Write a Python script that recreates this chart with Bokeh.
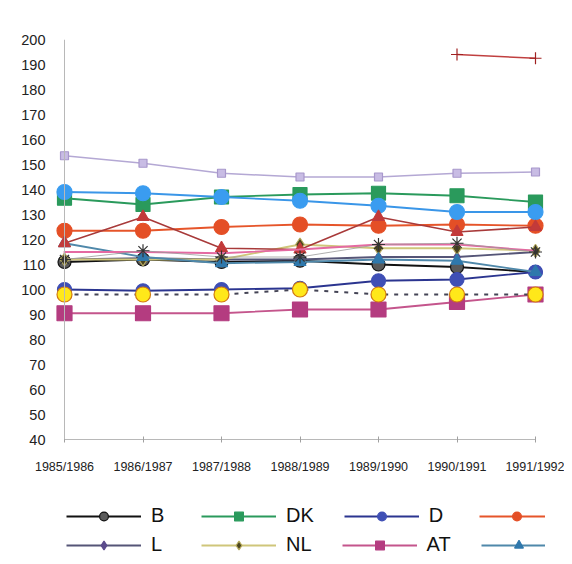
import math
from bokeh.plotting import figure
from bokeh.layouts import column
from bokeh.models import Range1d, Span, Legend, LegendItem, FixedTicker
from bokeh.embed import file_html
from bokeh.resources import INLINE

nan = float("nan")

years = ["1985/1986", "1986/1987", "1987/1988", "1988/1989", "1989/1990", "1990/1991", "1991/1992"]
y_ticks = [40, 50, 60, 70, 80, 90, 100, 110, 120, 130, 140, 150, 160, 170, 180, 190, 200]

B = [111, 112, 111, 111.5, 110, 109, 107]
DK = [136.5, 134, 137, 138, 138.5, 137.5, 135]
D = [100, 99.5, 100, 100.5, 103.5, 104, 107]
GR = [123.5, 123.5, 125, 126, 125.5, 126, 125.5]
L = [112, 112.5, 112, 112, 113, 113, 115]
NL = [112, 112, 112, 118, 116.5, 116.5, 115.5]
AT = [90.5, 90.5, 90.5, 92, 92, 95, 98]
P = [118.5, 113, 110.5, 111, 112, 111.5, 107]
lavender = [153.5, 150.5, 146.5, 145, 145, 146.5, 147]
light_blue = [139, 138.5, 137, 135.5, 133.5, 131, 131]
brown = [118.5, 129, 116.5, 116, 129, 123, 125]
pink = [115, 115, 114.5, 116, 118, 118, 115.5]
star = [112, 115.5, 113, 113, 118, 118.5, 115]
yellow = [98, 98, 98, 100, 98, 98, 98]
cross = [nan, nan, nan, nan, nan, 194, 192.5]

legend_row1 = ["B", "DK", "D", "GR"]
legend_row2 = ["L", "NL", "AT", "P"]

x = list(range(len(years)))
FONT = "Liberation Sans"

# ---------------- main chart ----------------
u = 78.5
pad = 10 / u
p = figure(width=564, height=480, output_backend="svg", toolbar_location=None,
           x_range=Range1d(-pad, len(years) - 1 + pad), y_range=Range1d(40, 200),
           min_border_left=54, min_border_right=19, min_border_top=39, min_border_bottom=41)
p.outline_line_color = None
p.xgrid.grid_line_color = None
p.ygrid.grid_line_color = None
p.background_fill_color = "white"
p.border_fill_color = "white"

xa = p.xaxis[0]
xa.ticker = FixedTicker(ticks=x)
xa.major_label_overrides = {i: lab for i, lab in enumerate(years)}
xa.bounds = (0, len(years) - 1)
xa.axis_line_color = "#b8b8b8"
xa.major_tick_line_color = "#a0a0a0"
xa.major_tick_in = 3
xa.major_tick_out = 3
xa.minor_tick_line_color = None
xa.major_label_standoff = 17
xa.major_label_text_font = FONT
xa.major_label_text_font_size = "12.5px"
xa.major_label_text_color = "#222222"

ya = p.yaxis[0]
ya.ticker = FixedTicker(ticks=y_ticks)
ya.axis_line_color = None
ya.major_tick_line_color = None
ya.minor_tick_line_color = None
ya.major_tick_in = 0
ya.major_tick_out = 0
ya.major_label_standoff = 9
ya.major_label_text_font = FONT
ya.major_label_text_font_size = "14.5px"
ya.major_label_text_color = "#222222"

p.add_layout(Span(location=0, dimension="height", line_color="#b8b8b8", line_width=1))

STYLES = {
    "B": dict(color="#111111", marker="circle", mcolor="#5a5a5a", mline="#111111", size=13),
    "DK": dict(color="#2a9a5c", marker="square", mcolor="#2a9a5c", mline="#2a9a5c", size=14),
    "D": dict(color="#2b3590", marker="circle", mcolor="#3f4fb5", mline="#3f4fb5", size=14),
    "GR": dict(color="#e6552a", marker="circle", mcolor="#e44f26", mline="#e44f26", size=15),
    "L": dict(color="#555577", marker="diamond", mcolor="#5b4b8c", mline="#5b4b8c", size=10),
    "NL": dict(color="#cfc67a", marker="diamond", mcolor="#4a4420", mline="#b8ad60", size=13),
    "AT": dict(color="#c4558c", marker="square", mcolor="#b43c80", mline="#b43c80", size=15),
    "P": dict(color="#4f88aa", marker="triangle", mcolor="#2f78ac", mline="#2f78ac", size=12),
}

def series(fig, xs, vals, color, marker, mcolor, mline, size, lw=1.8, dash="solid"):
    lr = fig.line(xs, vals, line_color=color, line_width=lw, line_dash=dash)
    sr = fig.scatter(xs, vals, marker=marker, size=size, fill_color=mcolor, line_color=mline, line_width=1.2)
    return lr, sr

main_data = {"B": B, "DK": DK, "D": D, "GR": GR, "L": L, "NL": NL, "AT": AT, "P": P}
for name, vals in main_data.items():
    series(p, x, vals, **STYLES[name])
series(p, x, lavender, "#b4a8d4", "square", "#c8bce4", "#a898cc", 8, lw=1.5)
series(p, x, light_blue, "#3a96e8", "circle", "#3a9cf0", "#3a9cf0", 15)
series(p, x, brown, "#a83a3a", "triangle", "#c23a3a", "#c23a3a", 12, lw=1.5)
series(p, x, pink, "#e46aa2", "circle", "#e46aa2", "#e46aa2", 1, lw=1.8)
series(p, x, star, "#9a9a9a", "asterisk", "#333333", "#333333", 13, lw=0.8)
series(p, x, yellow, "#444455", "circle", "#ffe81a", "#d27a10", 15, lw=2, dash="4 6")
series(p, x, cross, "#c04040", "cross", "#a02020", "#a02020", 12, lw=1.5)

# ---------------- legend strip ----------------
# legend proxies: same series, but this strip's ranges keep them out of view
lg = figure(width=564, height=76, output_backend="svg", toolbar_location=None,
            x_range=Range1d(0, 1), y_range=Range1d(0, 1),
            x_axis_type=None, y_axis_type=None,
            min_border_left=0, min_border_right=0, min_border_top=0, min_border_bottom=0)
lg.outline_line_color = None
lg.xgrid.grid_line_color = None
lg.ygrid.grid_line_color = None

def legend_row(names, loc):
    items = []
    for name in names:
        rs = series(lg, x, main_data[name], **STYLES[name])
        items.append(LegendItem(label=name, renderers=list(rs)))
    leg = Legend(items=items, location=loc, orientation="horizontal",
                 border_line_color=None, background_fill_alpha=0, padding=0, margin=0,
                 spacing=30, glyph_width=75, glyph_height=22, label_height=22,
                 label_standoff=10, label_text_font=FONT, label_text_font_size="20px",
                 label_text_color="#111111")
    lg.add_layout(leg, "center")

legend_row(legend_row1, (12, 29))
legend_row(legend_row2, (12, 0))

layout = column(p, lg, spacing=0)
open("out.html", "w").write(file_html(layout, INLINE))
